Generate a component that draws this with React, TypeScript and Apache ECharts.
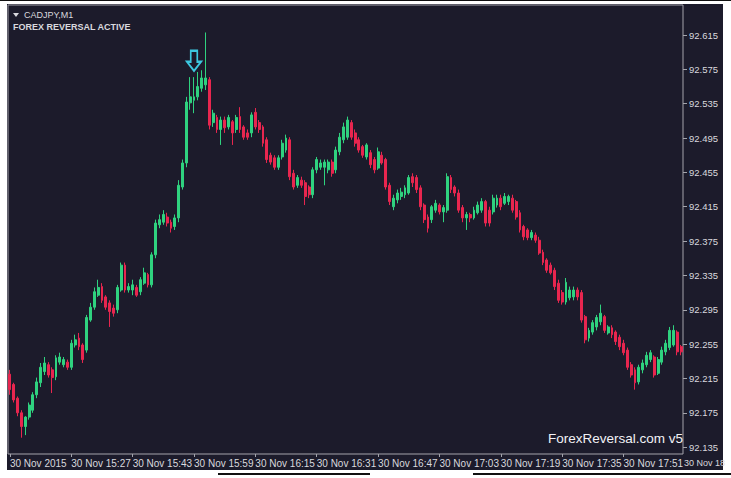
import React, { useEffect, useRef } from "react";
import * as echarts from "echarts";

const symbolTitle = "CADJPY,M1";
const statusTitle = "FOREX REVERSAL ACTIVE";
const watermark = "ForexReversal.com v5";

const tickLabels = [
  "30 Nov 2015", "30 Nov 15:27", "30 Nov 15:43", "30 Nov 15:59", "30 Nov 16:15", "30 Nov 16:31",
  "30 Nov 16:47", "30 Nov 17:03", "30 Nov 17:19", "30 Nov 17:35", "30 Nov 17:51",
];
const clippedTickLabel = "30 Nov 18";

const yTicks = [92.135, 92.175, 92.215, 92.255, 92.295, 92.335, 92.375, 92.415, 92.455, 92.495, 92.535, 92.575, 92.615];

// [open, close, low, high]
const ohlc: number[][] = [
  [92.220, 92.202, 92.196, 92.225], [92.208, 92.190, 92.187, 92.210], [92.192, 92.175, 92.171, 92.194], [92.175, 92.159, 92.146, 92.178],
  [92.159, 92.170, 92.149, 92.171], [92.170, 92.184, 92.167, 92.187], [92.178, 92.196, 92.175, 92.199], [92.196, 92.211, 92.192, 92.216],
  [92.210, 92.228, 92.205, 92.233], [92.223, 92.233, 92.219, 92.240], [92.231, 92.219, 92.216, 92.234], [92.225, 92.216, 92.198, 92.228],
  [92.217, 92.239, 92.213, 92.242], [92.234, 92.240, 92.231, 92.245], [92.231, 92.237, 92.228, 92.240], [92.234, 92.228, 92.225, 92.237],
  [92.228, 92.256, 92.225, 92.260], [92.254, 92.260, 92.251, 92.266], [92.262, 92.252, 92.248, 92.268], [92.254, 92.237, 92.233, 92.256],
  [92.248, 92.286, 92.245, 92.289], [92.283, 92.298, 92.281, 92.303], [92.298, 92.316, 92.295, 92.321], [92.312, 92.321, 92.310, 92.330],
  [92.322, 92.306, 92.303, 92.326], [92.310, 92.298, 92.295, 92.312], [92.303, 92.293, 92.275, 92.306], [92.297, 92.291, 92.287, 92.301],
  [92.295, 92.321, 92.291, 92.324], [92.318, 92.347, 92.316, 92.350], [92.347, 92.318, 92.315, 92.350], [92.318, 92.322, 92.315, 92.326],
  [92.318, 92.324, 92.312, 92.330], [92.321, 92.312, 92.310, 92.324], [92.316, 92.330, 92.312, 92.333], [92.326, 92.338, 92.324, 92.344],
  [92.336, 92.324, 92.321, 92.338], [92.324, 92.359, 92.321, 92.362], [92.359, 92.396, 92.355, 92.400], [92.394, 92.400, 92.390, 92.406],
  [92.397, 92.406, 92.394, 92.411], [92.403, 92.396, 92.392, 92.408], [92.397, 92.390, 92.385, 92.400], [92.392, 92.402, 92.388, 92.406],
  [92.402, 92.440, 92.397, 92.446], [92.438, 92.466, 92.435, 92.470], [92.466, 92.537, 92.461, 92.543], [92.536, 92.543, 92.528, 92.566],
  [92.539, 92.543, 92.524, 92.566], [92.543, 92.555, 92.539, 92.572], [92.553, 92.565, 92.549, 92.574], [92.557, 92.565, 92.551, 92.618],
  [92.563, 92.510, 92.505, 92.566], [92.513, 92.524, 92.508, 92.528], [92.519, 92.505, 92.501, 92.522], [92.505, 92.516, 92.487, 92.520],
  [92.516, 92.507, 92.501, 92.520], [92.508, 92.519, 92.505, 92.522], [92.514, 92.501, 92.487, 92.516], [92.505, 92.519, 92.501, 92.522],
  [92.520, 92.505, 92.501, 92.531], [92.508, 92.496, 92.493, 92.510], [92.501, 92.496, 92.493, 92.505], [92.501, 92.522, 92.496, 92.525],
  [92.525, 92.508, 92.505, 92.530], [92.513, 92.505, 92.501, 92.516], [92.508, 92.489, 92.485, 92.510], [92.493, 92.470, 92.466, 92.496],
  [92.475, 92.467, 92.464, 92.478], [92.472, 92.461, 92.458, 92.475], [92.461, 92.472, 92.458, 92.475], [92.473, 92.489, 92.470, 92.493],
  [92.481, 92.495, 92.478, 92.499], [92.493, 92.450, 92.446, 92.496], [92.454, 92.438, 92.435, 92.458], [92.440, 92.449, 92.437, 92.452],
  [92.446, 92.440, 92.437, 92.450], [92.443, 92.427, 92.417, 92.446], [92.438, 92.429, 92.425, 92.440], [92.429, 92.458, 92.425, 92.461],
  [92.458, 92.470, 92.454, 92.473], [92.461, 92.466, 92.458, 92.470], [92.461, 92.467, 92.440, 92.470], [92.458, 92.467, 92.454, 92.470],
  [92.467, 92.454, 92.450, 92.470], [92.458, 92.481, 92.454, 92.485], [92.479, 92.496, 92.475, 92.501], [92.493, 92.508, 92.489, 92.513],
  [92.496, 92.516, 92.493, 92.520], [92.513, 92.496, 92.493, 92.516], [92.501, 92.489, 92.485, 92.505], [92.493, 92.481, 92.478, 92.496],
  [92.485, 92.475, 92.472, 92.487], [92.473, 92.487, 92.470, 92.489], [92.478, 92.464, 92.460, 92.481], [92.470, 92.458, 92.454, 92.473],
  [92.460, 92.479, 92.458, 92.484], [92.475, 92.466, 92.464, 92.479], [92.470, 92.438, 92.435, 92.472], [92.440, 92.421, 92.417, 92.443],
  [92.415, 92.425, 92.411, 92.429], [92.423, 92.431, 92.419, 92.435], [92.427, 92.432, 92.423, 92.437], [92.429, 92.437, 92.425, 92.440],
  [92.431, 92.449, 92.429, 92.452], [92.450, 92.443, 92.438, 92.454], [92.449, 92.435, 92.431, 92.452], [92.437, 92.415, 92.411, 92.440],
  [92.417, 92.400, 92.396, 92.419], [92.403, 92.390, 92.385, 92.406], [92.400, 92.415, 92.396, 92.417], [92.411, 92.419, 92.408, 92.423],
  [92.417, 92.409, 92.406, 92.419], [92.409, 92.414, 92.397, 92.417], [92.411, 92.450, 92.408, 92.454], [92.449, 92.435, 92.431, 92.452],
  [92.438, 92.431, 92.427, 92.440], [92.431, 92.411, 92.408, 92.435], [92.414, 92.402, 92.397, 92.417], [92.402, 92.406, 92.388, 92.409],
  [92.406, 92.402, 92.397, 92.408], [92.402, 92.411, 92.400, 92.415], [92.408, 92.417, 92.406, 92.421], [92.411, 92.421, 92.408, 92.425],
  [92.421, 92.396, 92.392, 92.423], [92.411, 92.396, 92.392, 92.415], [92.409, 92.425, 92.406, 92.429], [92.417, 92.425, 92.414, 92.429],
  [92.425, 92.415, 92.411, 92.429], [92.419, 92.427, 92.417, 92.431], [92.421, 92.427, 92.417, 92.429], [92.425, 92.411, 92.408, 92.429],
  [92.421, 92.403, 92.400, 92.423], [92.408, 92.388, 92.385, 92.411], [92.392, 92.380, 92.376, 92.394], [92.388, 92.379, 92.376, 92.390],
  [92.379, 92.385, 92.376, 92.388], [92.382, 92.376, 92.373, 92.385], [92.376, 92.361, 92.359, 92.380], [92.362, 92.350, 92.347, 92.365],
  [92.353, 92.341, 92.338, 92.355], [92.347, 92.338, 92.336, 92.350], [92.341, 92.322, 92.318, 92.344], [92.326, 92.306, 92.303, 92.330],
  [92.315, 92.304, 92.301, 92.318], [92.304, 92.327, 92.301, 92.332], [92.309, 92.318, 92.306, 92.322], [92.310, 92.318, 92.306, 92.322],
  [92.318, 92.310, 92.306, 92.321], [92.315, 92.283, 92.280, 92.318], [92.287, 92.260, 92.256, 92.289], [92.262, 92.271, 92.258, 92.274],
  [92.269, 92.280, 92.266, 92.283], [92.275, 92.286, 92.271, 92.289], [92.281, 92.291, 92.277, 92.301], [92.287, 92.271, 92.268, 92.289],
  [92.268, 92.275, 92.266, 92.277], [92.274, 92.266, 92.262, 92.277], [92.269, 92.258, 92.254, 92.271], [92.263, 92.252, 92.248, 92.266],
  [92.256, 92.245, 92.242, 92.260], [92.248, 92.228, 92.225, 92.251], [92.231, 92.219, 92.216, 92.234], [92.225, 92.210, 92.202, 92.228],
  [92.211, 92.228, 92.208, 92.231], [92.225, 92.233, 92.221, 92.237], [92.231, 92.242, 92.228, 92.246], [92.237, 92.245, 92.234, 92.248],
  [92.240, 92.219, 92.216, 92.242], [92.221, 92.237, 92.219, 92.240], [92.234, 92.248, 92.231, 92.252], [92.246, 92.256, 92.242, 92.260],
  [92.251, 92.271, 92.248, 92.275], [92.254, 92.271, 92.252, 92.277], [92.269, 92.246, 92.242, 92.271], [92.252, 92.246, 92.242, 92.254],
];

const signalIndex = 48;
const signalPrice = 92.585;

const startMinute = 15 * 60 + 11;
const categories = ohlc.map((_, i) => {
  const m = startMinute + i;
  return `${Math.floor(m / 60)}:${String(m % 60).padStart(2, "0")}`;
});

const FONT = "Liberation Sans, Arial, sans-serif";
const TEXT = "#d9d9de";

export default function App() {
  const ref = useRef<HTMLDivElement>(null);
  useEffect(() => {
    if (!ref.current) return;
    const chart = echarts.init(ref.current, null, { renderer: "svg" });
    const showEvery = (index: number) => index % 16 === 0;
    chart.setOption({
      animation: false,
      grid: { left: 8, top: 5, width: 675, height: 449, show: true, borderColor: "#a4a4ac", borderWidth: 1, backgroundColor: "transparent" },
      xAxis: {
        type: "category",
        data: categories,
        boundaryGap: true,
        axisLine: { show: false },
        axisTick: { show: true, interval: showEvery, alignWithLabel: true, length: 3, lineStyle: { color: "#a4a4ac" } },
        axisLabel: {
          interval: showEvery,
          align: "left",
          margin: 4,
          color: TEXT,
          fontSize: 10,
          fontFamily: FONT,
          formatter: (_v: string, idx: number) => tickLabels[idx / 16] ?? "",
        },
        splitLine: { show: false },
      },
      yAxis: {
        type: "value",
        position: "right",
        min: 92.127,
        max: 92.65,
        scale: true,
        axisLine: { show: false },
        splitLine: { show: false },
        axisTick: { show: true, customValues: yTicks, length: 4, lineStyle: { color: "#a4a4ac" } },
        axisLabel: {
          customValues: yTicks,
          margin: 6,
          color: TEXT,
          fontSize: 9.5,
          fontFamily: FONT,
          formatter: (v: number) => v.toFixed(3),
        },
      },
      series: [
        {
          type: "candlestick",
          data: ohlc,
          barWidth: "62%",
          itemStyle: { color: "#2fd27f", color0: "#e8264f", borderColor: "#2fd27f", borderColor0: "#e8264f", borderWidth: 1 },
          markPoint: {
            silent: true,
            symbol: "path://M4,0 L11,0 L11,11 L15,11 L7.5,20 L0,11 L4,11 Z",
            symbolSize: [14, 20],
            symbolOffset: [0, 0],
            itemStyle: { color: "transparent", borderColor: "#3cc8e0", borderWidth: 2 },
            label: { show: false },
            data: [{ coord: [signalIndex, signalPrice] }],
          },
        },
      ],
      graphic: [
        { type: "line", shape: { x1: 0, y1: 0.5, x2: 731, y2: 0.5 }, style: { stroke: "#111", lineWidth: 1 } },
        { type: "line", shape: { x1: 218, y1: 474, x2: 370, y2: 474 }, style: { stroke: "#111", lineWidth: 2 } },
        { type: "line", shape: { x1: 473, y1: 474, x2: 731, y2: 474 }, style: { stroke: "#111", lineWidth: 2 } },
        { type: "polygon", shape: { points: [[13, 13], [19, 13], [16, 17]] }, style: { fill: TEXT } },
        { type: "text", x: 24, y: 10, style: { text: symbolTitle, fill: TEXT, font: `9px ${FONT}` } },
        { type: "text", x: 13, y: 22, style: { text: statusTitle, fill: TEXT, font: `bold 9px ${FONT}` } },
        { type: "text", x: 548, y: 431, style: { text: watermark, fill: "#f2f2f6", font: `13.5px ${FONT}` } },
        { type: "text", x: 684, y: 458, style: { text: clippedTickLabel, fill: TEXT, font: `9px ${FONT}` } },
      ],
    });
    return () => chart.dispose();
  }, []);
  return (
    <div style={{ position: "fixed", left: 0, top: 0, width: 731, height: 478, background: "#ffffff" }}>
      <div style={{ position: "absolute", left: 7, top: 4, width: 716, height: 466, background: "#1c1b2b" }} />
      <div ref={ref} style={{ position: "absolute", left: 0, top: 0, width: 731, height: 478 }} />
    </div>
  );
}
